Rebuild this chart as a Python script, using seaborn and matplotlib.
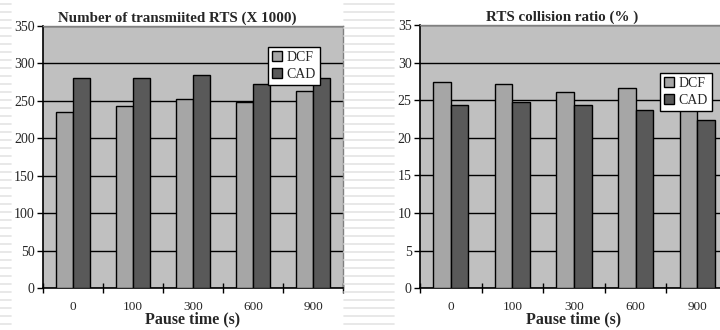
import numpy as np
import pandas as pd
import matplotlib
matplotlib.use("Agg")
import matplotlib.pyplot as plt
from matplotlib.lines import Line2D
from matplotlib.ticker import FixedLocator
import seaborn as sns

pause_times = ["0", "100", "300", "600", "900"]
protocols = ["DCF", "CAD"]
rts_dcf = [235, 243, 252, 249, 263]
rts_cad = [280, 280, 284, 272, 281]
coll_dcf = [27.4, 27.2, 26.1, 26.6, 25.0]
coll_cad = [24.4, 24.8, 24.4, 23.7, 22.4]

colors = {"DCF": "#a6a6a6", "CAD": "#595959"}


def long_table(dcf, cad):
    return pd.DataFrame({
        "pause": pause_times * 2,
        "protocol": ["DCF"] * len(dcf) + ["CAD"] * len(cad),
        "value": list(dcf) + list(cad),
    })


sns.set_theme(style="white")
plt.rcParams["font.family"] = ["Liberation Serif", "DejaVu Serif"]

fig = plt.figure(figsize=(7.2, 3.3), dpi=100)
W, H = 720.0, 330.0

# notebook-style stripes of the slide background
for y in np.arange(4, 330, 8):
    for x0, x1 in [(0, 11), (344, 394)]:
        fig.add_artist(Line2D([x0 / W, x1 / W], [1 - y / H, 1 - y / H],
                              color="#e4e4e4", lw=1.2, transform=fig.transFigure))


def panel(rect, df, ymax, step, title, title_x, leg_xy):
    ax = fig.add_axes(rect)
    ax.set_facecolor("#c0c0c0")
    sns.barplot(data=df, x="pause", y="value", hue="protocol", hue_order=protocols,
                palette=colors, width=0.57, edgecolor="black", linewidth=1.0,
                saturation=1, ax=ax, zorder=3)
    ax.set_ylim(0, ymax)
    ax.set_xlim(-0.5, 4.5)
    ax.set_yticks(np.arange(0, ymax + step / 2, step))
    ax.yaxis.grid(True, color="black", lw=1.0, zorder=0)
    ax.set_axisbelow(True)
    ax.tick_params(axis="y", direction="out", length=4, width=1, color="black",
                   labelsize=10, pad=2, left=True)
    ax.tick_params(axis="x", which="major", length=0, labelsize=9.5, pad=9)
    ax.xaxis.set_minor_locator(FixedLocator(np.arange(-0.5, 5, 1.0)))
    ax.tick_params(axis="x", which="minor", direction="inout", length=7, width=1,
                   color="black", bottom=True)
    for s in ["left", "bottom"]:
        ax.spines[s].set_color("black")
        ax.spines[s].set_linewidth(1.2)
    for s in ["top", "right"]:
        ax.spines[s].set_color("#808080")
        ax.spines[s].set_linewidth(1.0)
    ax.set_title(title, fontsize=10.8, fontweight="bold", pad=3, x=title_x)
    ax.set_xlabel("Pause time (s)", fontsize=11.5, fontweight="bold", labelpad=-1)
    ax.set_ylabel("")
    leg = ax.legend(loc="upper left", bbox_to_anchor=leg_xy, fontsize=10,
                    frameon=True, fancybox=False, framealpha=1, edgecolor="black",
                    handlelength=0.7, handleheight=0.7, handletextpad=0.35,
                    borderpad=0.3, labelspacing=0.25, borderaxespad=0)
    leg.get_frame().set_linewidth(1.0)
    leg.set_zorder(5)
    return ax


panel([43 / W, 1 - 288.3 / H, 300 / W, 262.3 / H], long_table(rts_dcf, rts_cad),
      350, 50, "Number of transmiited RTS (X 1000)", 0.448, (0.75, 0.92))
panel([420 / W, 1 - 288.3 / H, 308 / W, 263.3 / H], long_table(coll_dcf, coll_cad),
      35, 5, "RTS collision ratio (% )", 0.461, (0.779, 0.818))

fig.savefig("out.png", dpi=100)
